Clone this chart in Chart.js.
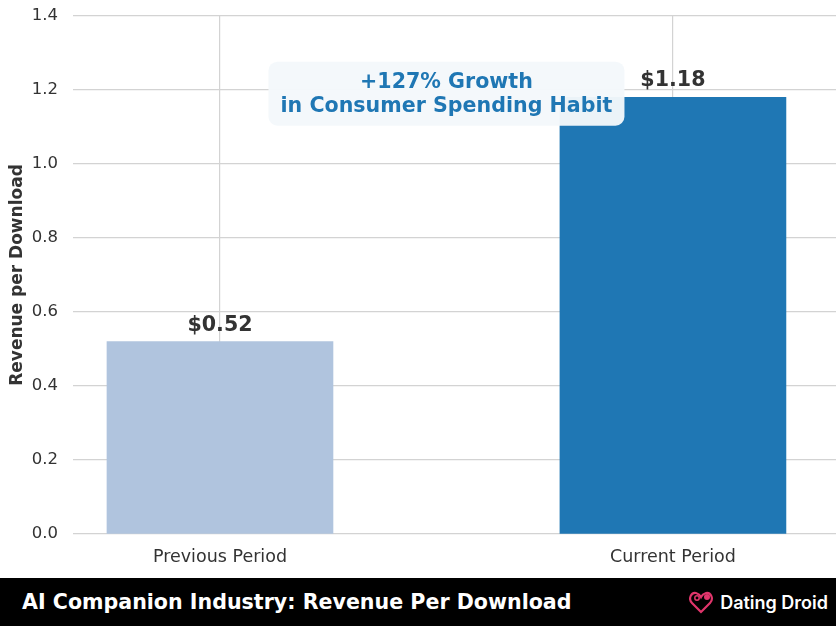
<!DOCTYPE html>
<html>
<head>
<meta charset="utf-8">
<script src="https://cdn.jsdelivr.net/npm/chart.js@4"></script>
<style>
  html, body { margin: 0; padding: 0; background: #fff; }
  body { width: 836px; height: 626px; overflow: hidden; font-family: "DejaVu Sans", sans-serif; }
  #wrap { position: relative; width: 836px; height: 578px; }
  #footer {
    position: relative; width: 836px; height: 48px; background: #000;
    display: flex; align-items: center; justify-content: space-between;
  }
  #footer .title { color: #fff; font-weight: bold; font-size: 20.6px; margin-left: 22px; }
  #footer .brand { display: flex; align-items: center; margin-right: 8px; color: #fff;
    font-family: "Inter", "DejaVu Sans", sans-serif; font-size: 18px; font-weight: 600; }
  #footer .brand svg { margin-right: 5px; }
</style>
</head>
<body>
<div id="wrap"><canvas id="chart"></canvas></div>
<div id="footer">
  <div class="title">AI Companion Industry: Revenue Per Download</div>
  <div class="brand">
    <svg width="26" height="24" viewBox="0 0 26 24">
      <path d="M12 22 L3 13 C-1 9 2 2 7 3 C9 3.5 11 5 12 7 C13 5 15 3.5 17 3 C22 2 25 9 21 13 Z"
            fill="none" stroke="#e0356b" stroke-width="2.2"/>
      <circle cx="18" cy="7" r="3" fill="#e0356b"/>
      <circle cx="8" cy="8" r="2.2" fill="none" stroke="#e0356b" stroke-width="1.5"/>
    </svg>
    <span>Dating Droid</span>
  </div>
</div>
<script>
const categories = ["Previous Period", "Current Period"];
const revenue = [0.52, 1.18];
const barLabels = ["$0.52", "$1.18"];
const barColors = ["#b0c4de", "#1f77b4"];
const annotationLines = ["+127% Growth", "in Consumer Spending Habit"];

const labelPlugin = {
  id: "labels",
  afterDatasetsDraw(chart) {
    const ctx = chart.ctx;
    const x = chart.scales.x, y = chart.scales.y;
    ctx.save();
    ctx.font = "bold 20.6px 'DejaVu Sans'";
    ctx.fillStyle = "#333333";
    ctx.textAlign = "center";
    ctx.textBaseline = "alphabetic";
    revenue.forEach((v, i) => {
      ctx.fillText(barLabels[i], x.getPixelForValue(i), y.getPixelForValue(v) - 11);
    });
    // annotation box
    const cx = x.getPixelForValue(0.5), cy = y.getPixelForValue(1.19);
    const w = 356, h = 64, r = 9;
    ctx.fillStyle = "rgba(244,248,251,0.96)";
    ctx.beginPath();
    ctx.roundRect(cx - w / 2, cy - h / 2, w, h, r);
    ctx.fill();
    ctx.fillStyle = "#1f77b4";
    ctx.textBaseline = "middle";
    ctx.fillText(annotationLines[0], cx, cy - 11);
    ctx.fillText(annotationLines[1], cx, cy + 13);
    ctx.restore();
  }
};

new Chart(document.getElementById("chart"), {
  type: "bar",
  data: {
    datasets: [{
      data: revenue.map((v, i) => ({ x: i, y: v })),
      backgroundColor: barColors,
      barThickness: 226,
      borderWidth: 0
    }]
  },
  options: {
    responsive: true,
    maintainAspectRatio: false,
    animation: false,
    layout: { padding: { top: 16, right: 0, bottom: 0, left: 0 } },
    plugins: { legend: { display: false }, tooltip: { enabled: false } },
    scales: {
      x: {
        type: "linear",
        offset: false,
        min: -0.3245,
        max: 1.36,
        afterBuildTicks: s => { s.ticks = categories.map((c, i) => ({ value: i })); },
        afterFit: s => { s.height = 44; },
        grid: { color: "#d3d3d3", lineWidth: 1.2, drawTicks: false, offset: false },
        border: { display: false },
        ticks: {
          callback: v => categories[v],
          color: "#333333",
          font: { family: "DejaVu Sans", size: 17.5 },
          padding: 13
        }
      },
      y: {
        min: 0,
        max: 1.4,
        afterFit: s => { s.width = 73; s.paddingTop = 0; s.paddingBottom = 0; },
        grid: { color: "#d3d3d3", lineWidth: 1.2, drawTicks: false },
        border: { display: false },
        ticks: {
          stepSize: 0.2,
          callback: v => v.toFixed(1),
          color: "#333333",
          font: { family: "DejaVu Sans", size: 16.5 },
          padding: 15
        },
        title: {
          display: true,
          text: "Revenue per Download",
          color: "#333333",
          font: { family: "DejaVu Sans", size: 17, weight: "bold" },
          padding: { top: 7, bottom: 0 }
        }
      }
    }
  },
  plugins: [labelPlugin]
});
</script>
</body>
</html>
